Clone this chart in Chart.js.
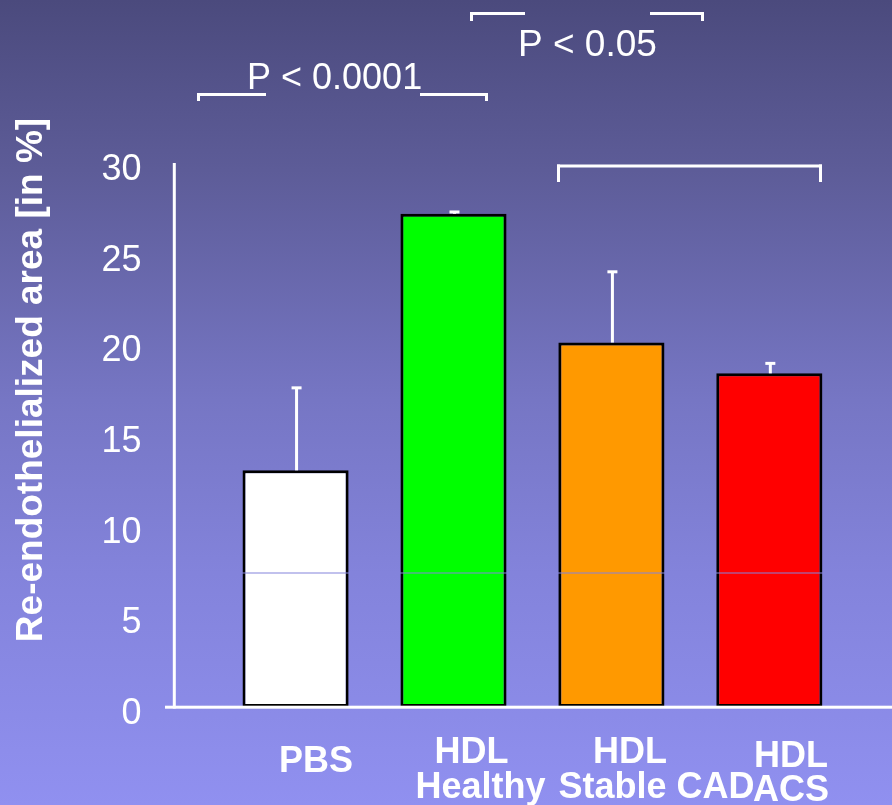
<!DOCTYPE html>
<html>
<head>
<meta charset="utf-8">
<script src="https://cdn.jsdelivr.net/npm/chart.js@4/dist/chart.umd.min.js"></script>
<style>
  html, body { margin: 0; padding: 0; }
  body {
    width: 892px; height: 805px; overflow: hidden;
    background: linear-gradient(to bottom,
      rgb(75,74,125) 0px, rgb(93,92,152) 170px, rgb(118,118,196) 400px,
      rgb(131,131,219) 573px, rgb(144,144,240) 805px);
  }
  canvas { display: block; }
</style>
</head>
<body>
<canvas id="chart" width="892" height="805"></canvas>
<script>
// Re-endothelialized area per treatment group (mean and upper error)
const groups = ['PBS', 'HDL Healthy', 'HDL Stable CAD', 'HDL ACS'];
const groupLabelLines = [['PBS'], ['HDL', 'Healthy'], ['HDL', 'Stable CAD'], ['HDL', 'ACS']];
const meanArea = [13.05, 27.2, 20.1, 18.4];
const errorUpper = [4.55, 0.1, 3.9, 0.55];
const yTickValues = [0, 5, 10, 15, 20, 25, 30];
const yTitle = 'Re-endothelialized area [in %]';
const pValueTexts = ['P < 0.0001', 'P < 0.05'];

const barColors = ['#ffffff', '#00ff00', '#ff9900', '#ff0000'];
const FONT = "'Liberation Sans', Arial, Helvetica, sans-serif";

// Per-line placement of the group captions: [x shift from bar centre, baseline y]
const captionPlacement = [
  [[20.5, 772]],
  [[18, 763], [27, 798]],
  [[18.5, 763], [45, 798]],
  [[21.6, 767], [21.6, 801]]
];

const overlay = {
  id: 'overlay',
  afterDatasetsDraw(chart) {
    const { ctx, scales: { x, y } } = chart;
    ctx.save();

    // error bars (upper whisker only)
    ctx.fillStyle = '#ffffff';
    meanArea.forEach((m, i) => {
      const cx = x.getPixelForValue(i) + 1;
      const top = y.getPixelForValue(m + errorUpper[i]);
      const base = y.getPixelForValue(m);
      ctx.fillRect(cx - 1.5, top, 3, base - top);
      ctx.fillRect(cx - 5, top - 1.5, 10, 3);
    });

    // faint seam running across the plot
    ctx.fillStyle = 'rgb(131,131,219)';
    ctx.fillRect(174, 572.5, 718, 1);

    // axis lines
    ctx.fillStyle = '#ffffff';
    const y0 = y.getPixelForValue(0);
    const yTop = y.getPixelForValue(30);
    ctx.fillRect(172.8, yTop, 3, y0 - yTop + 1.5);
    ctx.fillRect(165, y0 - 1.3, 727, 3);

    // significance brackets
    const hLine = (x1, x2, yy) => ctx.fillRect(x1, yy - 1.5, x2 - x1, 3);
    const vLine = (xx, y1, y2) => ctx.fillRect(xx - 1.5, y1, 3, y2 - y1);
    hLine(197, 266, 94.5); hLine(420, 488, 94.5);
    vLine(198.5, 93, 101); vLine(486.5, 93, 101);
    hLine(470, 525, 13.5); hLine(650, 704, 13.5);
    vLine(471.5, 12, 21); vLine(702.5, 12, 21);
    hLine(557, 822, 166);
    vLine(558.5, 164.5, 182); vLine(820.5, 164.5, 182);

    ctx.textBaseline = 'alphabetic';
    ctx.textAlign = 'left';
    ctx.font = '36px ' + FONT;
    ctx.fillText(pValueTexts[0], 247, 89);
    ctx.font = '37px ' + FONT;
    ctx.fillText(pValueTexts[1], 518, 56);

    // group captions under the bars
    ctx.font = 'bold 36px ' + FONT;
    ctx.textAlign = 'center';
    groupLabelLines.forEach((lines, i) => {
      const cx = x.getPixelForValue(i);
      lines.forEach((txt, j) => {
        const [dx, by] = captionPlacement[i][j];
        ctx.fillText(txt, cx + dx, by);
      });
    });

    // rotated y-axis title
    ctx.save();
    ctx.translate(42, 380);
    ctx.rotate(-Math.PI / 2);
    ctx.font = 'bold 37px ' + FONT;
    ctx.textAlign = 'center';
    ctx.fillText(yTitle, 0, 0);
    ctx.restore();

    ctx.restore();
  }
};

new Chart(document.getElementById('chart'), {
  type: 'bar',
  data: {
    labels: groups,
    datasets: [{
      data: meanArea,
      backgroundColor: barColors,
      borderColor: '#000000',
      borderWidth: 3,
      borderSkipped: false,
      categoryPercentage: 1,
      barPercentage: 0.672
    }]
  },
  options: {
    responsive: false,
    animation: false,
    events: [],
    layout: { padding: { left: 0, right: 43.7, top: 163, bottom: 98 } },
    plugins: { legend: { display: false }, tooltip: { enabled: false } },
    scales: {
      x: { display: false, offset: true },
      y: {
        min: 0, max: 30,
        afterFit(scale) { scale.width = 216.6; },
        afterBuildTicks(scale) { scale.ticks = yTickValues.map(v => ({ value: v })); },
        grid: { display: false, drawTicks: false },
        border: { display: false },
        ticks: {
          color: '#ffffff',
          font: { family: FONT, size: 36 },
          padding: 75,
          labelOffset: 7,
          callback: v => String(v)
        }
      }
    }
  },
  plugins: [overlay]
});
</script>
</body>
</html>
